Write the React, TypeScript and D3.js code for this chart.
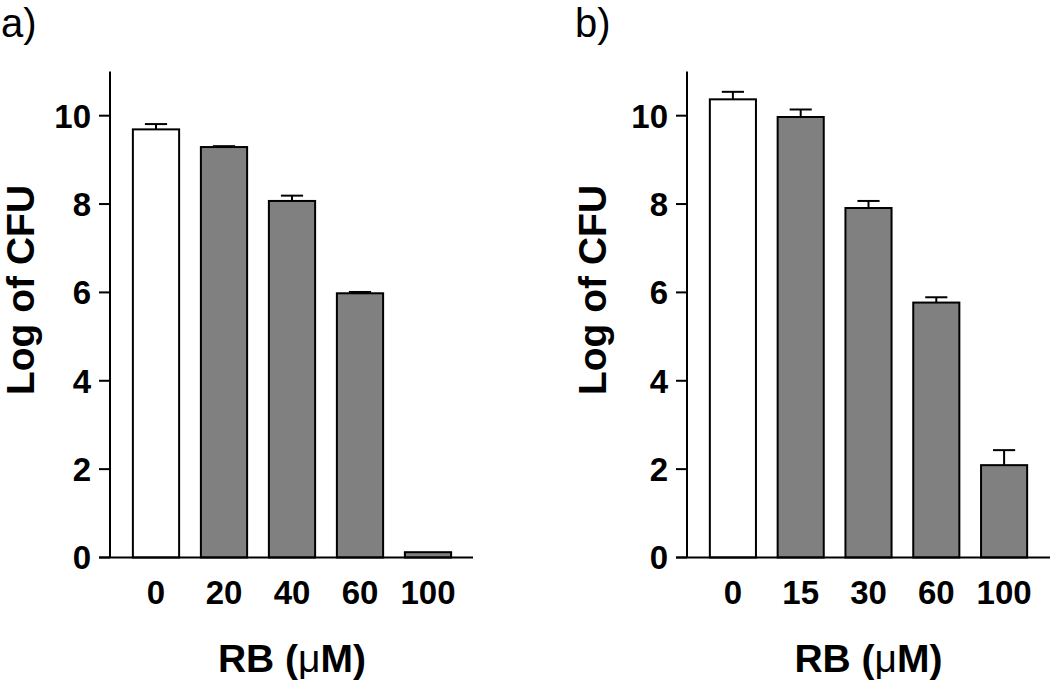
import React from "react";
import * as d3 from "d3";

const categoriesA = ["0", "20", "40", "60", "100"];
const valuesA = [9.69, 9.29, 8.07, 5.98, 0.12];
const errorsA = [0.12, 0.02, 0.12, 0.03, 0];

const categoriesB = ["0", "15", "30", "60", "100"];
const valuesB = [10.37, 9.97, 7.91, 5.77, 2.09];
const errorsB = [0.17, 0.17, 0.16, 0.12, 0.34];

const yTicks = [0, 2, 4, 6, 8, 10];

const FONT = "'Liberation Sans', Arial, sans-serif";

type PanelProps = {
  label: string;
  cats: string[];
  vals: number[];
  errs: number[];
  axisX: number;
  bandStart: number;
  bandEnd: number;
  xAxisEnd: number;
  yLabelX: number;
  panelLabelX: number;
};

function Panel({ label, cats, vals, errs, axisX, bandStart, bandEnd, xAxisEnd, yLabelX, panelLabelX }: PanelProps) {
  const y = d3.scaleLinear().domain([0, 11]).range([557.5, 71.5]);
  const x = d3
    .scaleBand<string>()
    .domain(cats)
    .range([bandStart, bandEnd])
    .paddingInner(0.32)
    .paddingOuter(0.16);
  const bw = x.bandwidth();
  const capW = bw * 0.48;
  const tickLen = 11;
  const centerX = (x(cats[0])! + x(cats[cats.length - 1])! + bw) / 2;
  return (
    <g>
      <text x={panelLabelX} y={37} fontFamily={FONT} fontSize={40} fill="#000">
        {label}
      </text>
      {cats.map((c, i) => {
        const x0 = x(c)!;
        const top = y(vals[i]);
        const cx = x0 + bw / 2;
        return (
          <g key={c}>
            {errs[i] > 0 && (
              <g stroke="#000" strokeWidth={2}>
                <line x1={cx} x2={cx} y1={top} y2={y(vals[i] + errs[i])} />
                <line x1={cx - capW / 2} x2={cx + capW / 2} y1={y(vals[i] + errs[i])} y2={y(vals[i] + errs[i])} />
              </g>
            )}
            <rect
              x={x0}
              y={top}
              width={bw}
              height={y(0) - top}
              fill={i === 0 ? "#ffffff" : "#808080"}
              stroke="#000"
              strokeWidth={2}
            />
          </g>
        );
      })}
      <line x1={axisX} x2={axisX} y1={y(11)} y2={y(0)} stroke="#000" strokeWidth={2} />
      {yTicks.map((t) => (
        <g key={t}>
          <line x1={axisX - tickLen} x2={axisX} y1={y(t)} y2={y(t)} stroke="#000" strokeWidth={2} />
          <text
            x={axisX - 19}
            y={y(t)}
            dy="0.36em"
            textAnchor="end"
            fontFamily={FONT}
            fontWeight="bold"
            fontSize={33}
            fill="#000"
          >
            {t}
          </text>
        </g>
      ))}
      <line x1={axisX - tickLen} x2={xAxisEnd} y1={y(0)} y2={y(0)} stroke="#000" strokeWidth={2} />
      {cats.map((c) => (
        <text
          key={c}
          x={x(c)! + bw / 2}
          y={604}
          textAnchor="middle"
          fontFamily={FONT}
          fontWeight="bold"
          fontSize={33}
          fill="#000"
        >
          {c}
        </text>
      ))}
      <text x={centerX} y={672} textAnchor="middle" fontFamily={FONT} fontWeight="bold" fontSize={39} fill="#000">
        RB (<tspan fontWeight="normal">μ</tspan>M)
      </text>
      <text
        transform={`translate(${yLabelX},290) rotate(-90)`}
        textAnchor="middle"
        fontFamily={FONT}
        fontWeight="bold"
        fontSize={39}
        fill="#000"
      >
        Log of CFU
      </text>
    </g>
  );
}

export default function App() {
  return (
    <svg
      width={1050}
      height={688}
      style={{ position: "absolute", left: 0, top: 0, background: "#fff" }}
    >
      <rect width={1050} height={688} fill="#fff" />
      <Panel
        label="a)"
        cats={categoriesA}
        vals={valuesA}
        errs={errorsA}
        axisX={110}
        bandStart={122}
        bandEnd={462}
        xAxisEnd={473}
        yLabelX={34}
        panelLabelX={1}
      />
      <Panel
        label="b)"
        cats={categoriesB}
        vals={valuesB}
        errs={errorsB}
        axisX={687}
        bandStart={699}
        bandEnd={1038}
        xAxisEnd={1050}
        yLabelX={606}
        panelLabelX={575}
      />
    </svg>
  );
}
